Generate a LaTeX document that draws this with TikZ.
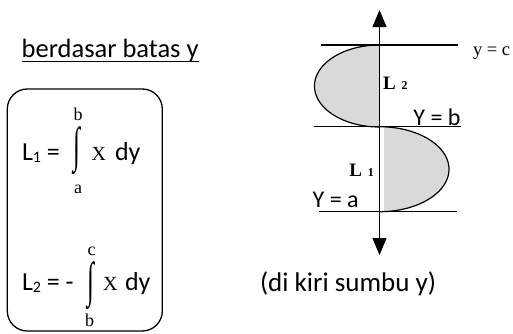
\documentclass[tikz,border=0pt]{standalone}
\usepackage{graphicx}
\usepackage{fontspec}
\setmainfont{Carlito}
\newfontfamily\tnr{Liberation Serif}
\usetikzlibrary{arrows.meta}
\begin{document}
\begin{tikzpicture}[x=1pt,y=-1pt,
  lbl/.style={inner sep=0pt, outer sep=0pt},
  cal/.style={lbl, font=\fontsize{26}{26}\selectfont},
  calsm/.style={lbl, font=\fontsize{24}{24}\selectfont},
  ser/.style={lbl, font=\tnr\fontsize{20}{20}\selectfont},
  lim/.style={lbl, font=\tnr\fontsize{18}{18}\selectfont},
  bold/.style={lbl, font=\tnr\bfseries\fontsize{19}{19}\selectfont},
  intg/.style={lbl, font=\tnr\fontsize{25}{25}\selectfont},
  rule/.style={line width=1.2pt},
  curve/.style={line width=1.2pt},
  lobe/.style={fill=black!15},
  axis/.style={line width=0.9pt, {Triangle[width=14pt,length=17pt]}-{Triangle[width=14pt,length=17pt]}},
  ]
\useasboundingbox (0,0) rectangle (513,333);

% ---------- left part ----------
\node[cal, font=\fontsize{26.5}{26.5}\selectfont, anchor=base west] (title) at (21.7,57.5) {berdasar batas y};
\draw[line width=1pt] ([yshift=-3.5pt]title.base west) -- ([yshift=-3.5pt]title.base east);

\node[draw, line width=1.3pt, rounded corners=20pt, minimum width=155pt, minimum height=242pt, inner sep=0pt] (box) at (84.8,210) {};

% L1
\node[cal, anchor=base west] (l1) at (22,160) {L\raisebox{-2pt}{\fontsize{16}{16}\selectfont 1} =};
\node[intg] (i1) at (77,151) {\scalebox{1}[1.95]{∫}};
\node[lim] (b1) at (78,114) {b};
\node[lim] (a1) at (78,189) {a};
\node[ser, anchor=base west] (x1) at (91.7,160) {X};
\node[cal, anchor=base west] (dy1) at (115,160) {dy};

% L2
\node[cal, anchor=base west] (l2) at (22,290) {L\raisebox{-2pt}{\fontsize{16}{16}\selectfont 2} = -};
\node[intg] (i2) at (91,286) {\scalebox{1}[1.95]{∫}};
\node[lim] (c2) at (91.7,251) {c};
\node[lim] (b2) at (89.5,320) {b};
\node[ser, anchor=base west] (x2) at (103,290) {X};
\node[cal, anchor=base west] (dy2) at (125,290) {dy};

% ---------- right part ----------
\coordinate (top) at (379.5,10);
\coordinate (bot) at (379.5,255);
\coordinate (c0) at (320.7,45);
\coordinate (c1) at (458,45);
\coordinate (b0) at (314,126.7);
\coordinate (b1r) at (460.7,126.7);
\coordinate (a0) at (319,211.7);
\coordinate (a1r) at (456.7,211.7);

\fill[lobe] plot[domain=0:180, samples=73] ({379.5-65*sin(\x)},{86-41*cos(\x)}) -- cycle;
\begin{scope}
  \clip (384,100) rectangle (470,230);
  \fill[lobe] plot[domain=0:180, samples=73] ({379.5+69.5*sin(\x)},{169.2-42.5*cos(\x)}) -- cycle;
\end{scope}
\draw[curve] plot[domain=0:180, samples=73] ({379.5-65*sin(\x)},{86-41*cos(\x)});
\draw[curve] plot[domain=0:180, samples=73] ({379.5+69.5*sin(\x)},{169.2-42.5*cos(\x)});

\draw[rule] (c0) -- (c1);
\draw[rule] (b0) -- (b1r);
\draw[rule] (a0) -- (a1r);
\draw[axis] (top) -- (bot);

\node[bold, anchor=base west] (L2) at (383,89.3) {L\hspace{6pt}{\fontsize{12}{12}\selectfont 2}};
\node[bold, anchor=base west] (L1) at (349.3,176.7) {L\hspace{6pt}{\fontsize{12}{12}\selectfont 1}};
\node[calsm, anchor=base east] (Yb) at (460.5,125.5) {Y = b};
\node[calsm, anchor=base west] (Ya) at (312.7,207.7) {Y = a};
\node[lbl, font=\tnr\fontsize{18.5}{18.5}\selectfont, anchor=base west] (yc) at (473,55) {y = c};
\node[cal, font=\fontsize{27}{27}\selectfont, anchor=base west] (note) at (260,291.7) {(di kiri sumbu y)};
\end{tikzpicture}
\end{document}
